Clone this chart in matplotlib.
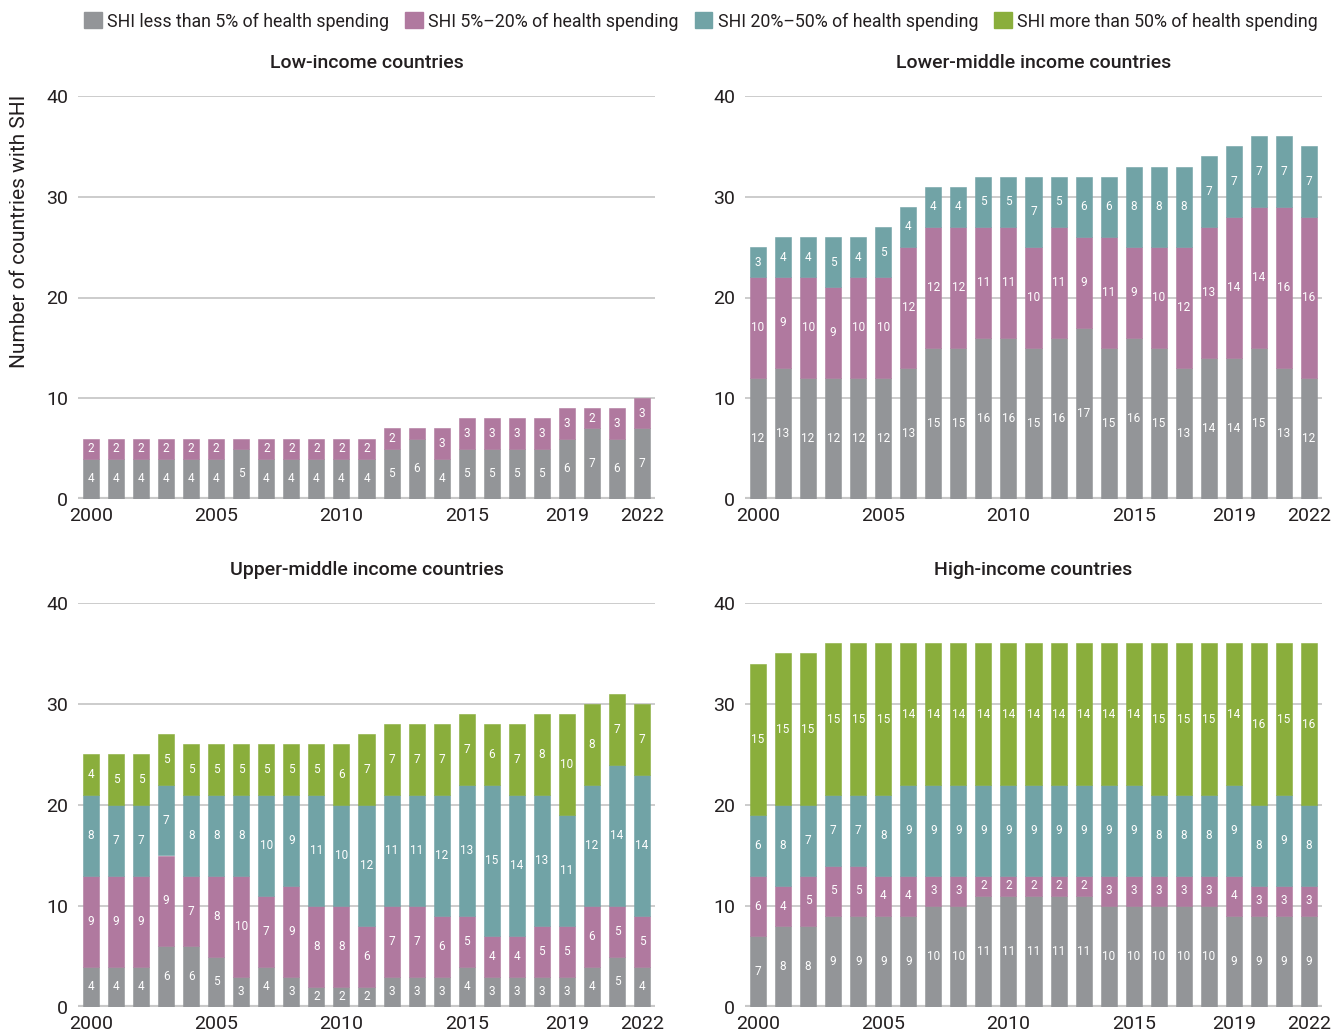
import matplotlib.pyplot as plt
import matplotlib.patches as mpatches
import numpy as np

plt.rcParams['font.family'] = ['Roboto', 'DejaVu Sans']

years = np.arange(2000, 2023)
xticks = [2000, 2005, 2010, 2015, 2019, 2022]

series_names = ['SHI less than 5% of health spending',
                'SHI 5%–20% of health spending',
                'SHI 20%–50% of health spending',
                'SHI more than 50% of health spending']
colors = ['#939598', '#b0799f', '#71a3a6', '#8aae3c']

# Low-income countries
low_lt5 = [4, 4, 4, 4, 4, 4, 5, 4, 4, 4, 4, 4, 5, 6, 4, 5, 5, 5, 5, 6, 7, 6, 7]
low_5_20 = [2, 2, 2, 2, 2, 2, 1, 2, 2, 2, 2, 2, 2, 1, 3, 3, 3, 3, 3, 3, 2, 3, 3]
low_20_50 = [0] * 23
low_gt50 = [0] * 23

# Lower-middle income countries
lmi_lt5 = [12, 13, 12, 12, 12, 12, 13, 15, 15, 16, 16, 15, 16, 17, 15, 16, 15, 13, 14, 14, 15, 13, 12]
lmi_5_20 = [10, 9, 10, 9, 10, 10, 12, 12, 12, 11, 11, 10, 11, 9, 11, 9, 10, 12, 13, 14, 14, 16, 16]
lmi_20_50 = [3, 4, 4, 5, 4, 5, 4, 4, 4, 5, 5, 7, 5, 6, 6, 8, 8, 8, 7, 7, 7, 7, 7]
lmi_gt50 = [0] * 23

# Upper-middle income countries
umi_lt5 = [4, 4, 4, 6, 6, 5, 3, 4, 3, 2, 2, 2, 3, 3, 3, 4, 3, 3, 3, 3, 4, 5, 4]
umi_5_20 = [9, 9, 9, 9, 7, 8, 10, 7, 9, 8, 8, 6, 7, 7, 6, 5, 4, 4, 5, 5, 6, 5, 5]
umi_20_50 = [8, 7, 7, 7, 8, 8, 8, 10, 9, 11, 10, 12, 11, 11, 12, 13, 15, 14, 13, 11, 12, 14, 14]
umi_gt50 = [4, 5, 5, 5, 5, 5, 5, 5, 5, 5, 6, 7, 7, 7, 7, 7, 6, 7, 8, 10, 8, 7, 7]

# High-income countries
hi_lt5 = [7, 8, 8, 9, 9, 9, 9, 10, 10, 11, 11, 11, 11, 11, 10, 10, 10, 10, 10, 9, 9, 9, 9]
hi_5_20 = [6, 4, 5, 5, 5, 4, 4, 3, 3, 2, 2, 2, 2, 2, 3, 3, 3, 3, 3, 4, 3, 3, 3]
hi_20_50 = [6, 8, 7, 7, 7, 8, 9, 9, 9, 9, 9, 9, 9, 9, 9, 9, 8, 8, 8, 9, 8, 9, 8]
hi_gt50 = [15, 15, 15, 15, 15, 15, 14, 14, 14, 14, 14, 14, 14, 14, 14, 14, 15, 15, 15, 14, 16, 15, 16]

panels = [
    ('Low-income countries', [low_lt5, low_5_20, low_20_50, low_gt50]),
    ('Lower-middle income countries', [lmi_lt5, lmi_5_20, lmi_20_50, lmi_gt50]),
    ('Upper-middle income countries', [umi_lt5, umi_5_20, umi_20_50, umi_gt50]),
    ('High-income countries', [hi_lt5, hi_5_20, hi_20_50, hi_gt50]),
]

W, H = 1343, 1035
fig = plt.figure(figsize=(W / 100, H / 100), dpi=100)

# axes boxes in pixels: left, top, right, bottom
boxes = [(78, 96, 655, 499), (745, 96, 1322, 499),
         (78, 603, 655, 1007), (745, 603, 1322, 1007)]

text_color = '#231f20'

for (title, data), (l, t, r, b) in zip(panels, boxes):
    ax = fig.add_axes([l / W, 1 - b / H, (r - l) / W, (b - t) / H])
    bottom = np.zeros(len(years))
    for vals, col in zip(data, colors):
        vals = np.array(vals)
        nz = vals > 0  # skip empty segments so no stray edge lines
        ax.bar(years[nz], vals[nz], bottom=bottom[nz], width=0.64, color=col,
               edgecolor=col, linewidth=0.4, zorder=3)
        for x, v, b0 in zip(years, vals, bottom):
            if v >= 2:
                ax.text(x, b0 + v / 2, str(v), ha='center', va='center',
                        color='white', fontsize=8.5, zorder=4)
        bottom = bottom + vals

    ax.set_xlim(1999.48, 2022.52)
    ax.set_ylim(0, 40)
    ax.set_yticks([0, 10, 20, 30, 40])
    ax.set_xticks(xticks)
    ax.tick_params(length=0, labelsize=14, colors=text_color)
    ax.tick_params(axis='y', pad=7)
    ax.tick_params(axis='x', pad=6)
    for s in ax.spines.values():
        s.set_visible(False)
    ax.grid(axis='y', color='#c8c8c8', linewidth=1.3, zorder=0)
    ax.axhline(0, color='#c8c8c8', linewidth=3, zorder=2)
    ax.set_title(title, fontsize=14, fontweight='medium', color=text_color, pad=20)

fig.text(20 / W, 1 - 95 / H, 'Number of countries with SHI', rotation=90,
         ha='center', va='top', fontsize=15, color=text_color)

handles = [mpatches.Patch(color=c) for c in colors]
fig.legend(handles, series_names, loc='upper center', bbox_to_anchor=(0.522, 1.0),
           ncol=4, frameon=False, handlelength=1.0, handleheight=1.0,
           handletextpad=0.3, columnspacing=0.9, fontsize=12.8,
           labelcolor=text_color, borderaxespad=0.3)

fig.savefig('out.png', dpi=100)
